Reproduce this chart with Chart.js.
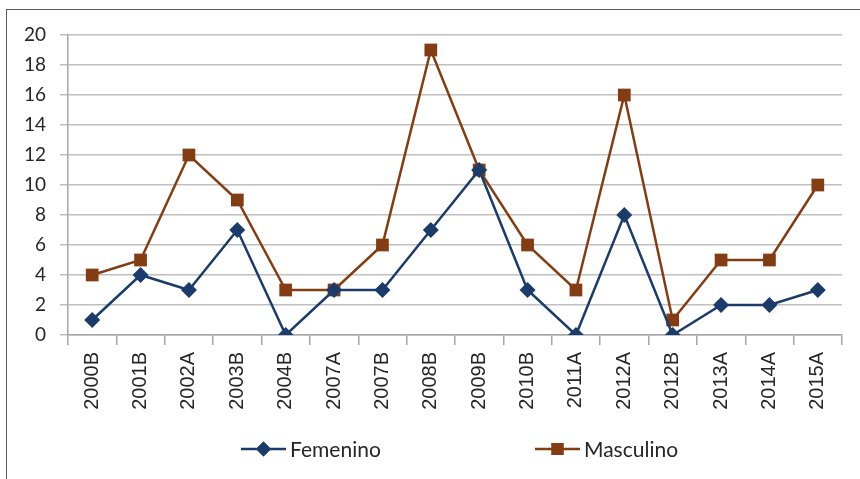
<!DOCTYPE html>
<html>
<head>
<meta charset="utf-8">
<script src="https://cdn.jsdelivr.net/npm/chart.js@4/dist/chart.umd.min.js"></script>
<style>
  body { margin: 0; background: #fff; overflow: hidden; }
  #wrap { position: relative; width: 860px; height: 479px; }
  #frame { position: absolute; left: 6px; top: 9px; width: 900px; height: 500px;
           border-left: 1.5px solid #595959; border-top: 1.5px solid #595959; }
  canvas { position: absolute; left: 0; top: 0; }
</style>
</head>
<body>
<div id="wrap">
  <div id="frame"></div>
  <canvas id="canvas1" width="860" height="479"></canvas>
</div>
<script>
// Data
let periodos = ["2000B", "2001B", "2002A", "2003B", "2004B", "2007A", "2007B", "2008B",
                "2009B", "2010B", "2011A", "2012A", "2012B", "2013A", "2014A", "2015A"];
let femenino = [1, 4, 3, 7, 0, 3, 3, 7, 11, 3, 0, 8, 0, 2, 2, 3];
let masculino = [4, 5, 12, 9, 3, 3, 6, 19, 11, 6, 3, 16, 1, 5, 5, 10];
let yTicks = [0, 2, 4, 6, 8, 10, 12, 14, 16, 18, 20];

let azul = "#1b3c6b";
let cafe = "#843c12";

// legend drawn like the spreadsheet one: line with marker in the middle
let legendPlugin = {
    id: "lineLegend",
    afterDraw(chart) {
        let ctx = chart.ctx;
        let items = [
            { x: 241, label: "Femenino", color: azul, style: "rectRot", r: 7.5 },
            { x: 535, label: "Masculino", color: cafe, style: "rect", r: 8.5 }
        ];
        let y = 449;
        ctx.save();
        items.forEach(it => {
            ctx.strokeStyle = it.color;
            ctx.lineWidth = 2.5;
            ctx.beginPath();
            ctx.moveTo(it.x, y);
            ctx.lineTo(it.x + 45, y);
            ctx.stroke();
            ctx.fillStyle = it.color;
            Chart.helpers.drawPoint(ctx, { pointStyle: it.style, radius: it.r, borderWidth: 0 }, it.x + 22.5, y);
            ctx.fill();
            ctx.fillStyle = "#262626";
            ctx.font = "21px Lato";
            ctx.textBaseline = "middle";
            ctx.fillText(it.label, it.x + 49, y + 1);
        });
        ctx.restore();
    }
};

let lineChart = new Chart(document.querySelector("#canvas1").getContext("2d"), {
    type: "line",
    data: {
        labels: periodos,
        datasets: [{
            label: "Femenino",
            data: femenino,
            borderColor: azul,
            backgroundColor: azul,
            borderWidth: 2.5,
            pointStyle: "rectRot",
            pointRadius: 8,
            pointHoverRadius: 8,
            pointBorderWidth: 0,
            tension: 0
        }, {
            label: "Masculino",
            data: masculino,
            borderColor: cafe,
            backgroundColor: cafe,
            borderWidth: 2.5,
            pointStyle: "rect",
            pointRadius: 9,
            pointHoverRadius: 9,
            pointBorderWidth: 0,
            tension: 0
        }]
    },
    options: {
        responsive: false,
        animation: false,
        layout: { padding: { top: 35, right: 18, left: 0, bottom: 0 } },
        plugins: {
            legend: { display: false },
            tooltip: { enabled: false }
        },
        scales: {
            x: {
                offset: true,
                grid: { offset: true, drawOnChartArea: false, drawTicks: true, tickLength: 10, color: "#a6a6a6", lineWidth: 1.5 },
                border: { color: "#a6a6a6", width: 1.5 },
                ticks: { minRotation: 90, maxRotation: 90, padding: 7, color: "#262626", font: { family: "Liberation Sans", size: 20 } },
                afterFit(scale) { scale.height = 144; }
            },
            y: {
                min: 0,
                max: 20,
                afterBuildTicks(scale) { scale.ticks = yTicks.map(v => ({ value: v })); },
                grid: { color: "#bfbfbf", lineWidth: 1.5, tickLength: 8 },
                border: { color: "#a6a6a6", width: 1.5 },
                ticks: { padding: 14, color: "#262626", font: { family: "Lato", size: 19 } },
                afterFit(scale) { scale.width = 68; }
            }
        }
    },
    plugins: [legendPlugin]
});
</script>
</body>
</html>
